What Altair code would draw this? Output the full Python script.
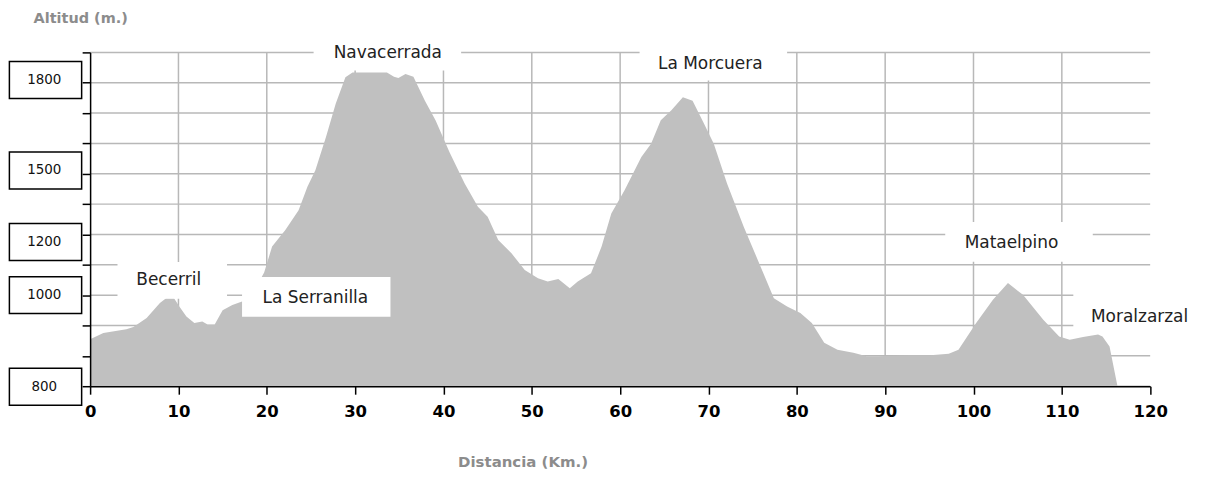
import altair as alt
import pandas as pd

# ---- profile data (km, altitude m) ----
km = [0, 1.5, 4.1, 4.9, 6.4, 7.9, 8.6, 9.5, 10.1, 10.9, 11.8, 12.7, 13.3, 14.1, 15.0, 16.1,
      17.2, 18.5, 19.7, 20.6, 22.1, 23.6, 24.6, 25.5, 26.7, 27.8, 28.9, 29.7, 33.6, 34.4,
      34.9, 35.7, 36.6, 37.9, 39.1, 40.7, 42.4, 43.9, 45.0, 46.2, 47.7, 49.2, 50.7, 51.8,
      53.0, 54.3, 55.2, 56.7, 57.9, 59.0, 60.5, 62.4, 63.5, 64.6, 65.8, 67.1, 68.2, 69.5,
      70.6, 72.1, 74.0, 75.9, 77.4, 78.9, 80.4, 81.7, 83.1, 84.6, 86.4, 87.9, 89.1, 92.8,
      95.1, 97.2, 98.3, 100.3, 102.2, 103.9, 105.6, 107.9, 109.7, 110.9, 112.4, 114.1,
      114.6, 115.4, 116.3]
elev = [955, 975, 988, 995, 1025, 1074, 1090, 1090, 1063, 1030, 1008, 1013, 1003, 1003, 1050, 1068,
        1079, 1110, 1175, 1260, 1315, 1380, 1457, 1512, 1621, 1731, 1818, 1834, 1834, 1820,
        1816, 1829, 1820, 1741, 1676, 1570, 1468, 1391, 1358, 1282, 1238, 1183, 1156, 1145,
        1153, 1123, 1145, 1172, 1260, 1369, 1446, 1555, 1599, 1676, 1709, 1752, 1741, 1665,
        1599, 1468, 1325, 1194, 1090, 1063, 1041, 1008, 943, 920, 910, 899, 899, 902,
        902, 907, 920, 1008, 1085, 1140, 1101, 1019, 964, 953, 962, 970,
        964, 931, 800]

x_ticks = list(range(0, 121, 10))
x_grid = list(range(10, 111, 10))
y_grid = list(range(800, 1901, 100))

# boxed altitude labels on the left
y_label_text = ["1800", "1500", "1200", "1000", "800"]
y_label_pos = [1809, 1511, 1275, 1100, 798]

# place names
place_names = ["Navacerrada", "La Morcuera", "Becerril", "La Serranilla", "Mataelpino", "Moralzarzal"]
place_km = [33.7, 70.2, 8.9, 25.5, 104.3, 118.8]
place_alt = [1897, 1863, 1150, 1091, 1272, 1029]
box_km0 = [25.3, 62.2, 3.1, 17.2, 96.8, 111.3]
box_km1 = [42.0, 78.9, 15.5, 34.0, 113.5, 126.1]
box_alt0 = [1840, 1807, 1088, 1029, 1210, 976]
box_alt1 = [1945, 1930, 1209, 1160, 1341, 1176]

W, H = 1063.8, 335
FONT = "DejaVu Sans"

profile = pd.DataFrame({"km": km, "alt": elev})
hgrid = pd.DataFrame({"v": y_grid})
vgrid = pd.DataFrame({"v": x_grid})
ylab = pd.DataFrame({"t": y_label_text, "pos": y_label_pos,
                     "lo": [p - 60.8 for p in y_label_pos], "hi": [p + 60.8 for p in y_label_pos]})
places = pd.DataFrame({"name": place_names, "km": place_km, "alt": place_alt,
                       "k0": box_km0, "k1": box_km1, "a0": box_alt0, "a1": box_alt1})

xscale = alt.Scale(domain=[0, 120], nice=False, zero=False)
yscale = alt.Scale(domain=[800, 1900], nice=False, zero=False)

xaxis = alt.Axis(values=x_ticks, grid=False, domainColor="black", domainWidth=1.5,
                 tickColor="black", tickWidth=1.5, tickSize=8,
                 labelFont=FONT, labelFontWeight="bold", labelFontSize=16.5, labelColor="black",
                 labelBaseline="middle", labelPadding=17, labelFlush=False,
                 title="Distancia (Km.)", titleFont=FONT, titleFontSize=15, titleFontWeight="bold",
                 titleColor="#8c8c8c", titleX=434, titleY=76, titleAlign="center",
                 titleBaseline="middle", titleAnchor="start", zindex=1)
yaxis = alt.Axis(values=y_grid, grid=False, labels=False, domainColor="black", domainWidth=1.5,
                 tickColor="black", tickWidth=1.5, tickSize=8,
                 title="Altitud (m.)", titleFont=FONT, titleFontSize=14.5, titleFontWeight="bold",
                 titleColor="#8c8c8c", titleAngle=0, titleX=-10, titleY=-33.7,
                 titleAlign="center", titleBaseline="middle", titleAnchor="start", zindex=1)


def xenc(f):
    return alt.X(f, type="quantitative", scale=xscale, axis=xaxis)


def yenc(f):
    return alt.Y(f, type="quantitative", scale=yscale, axis=yaxis)


grid_color = "#b8b8b8"

h_lines = alt.Chart(hgrid).mark_rule(color=grid_color, strokeWidth=1.5).encode(
    y=yenc("v"), x=alt.value(0), x2=alt.value(W))
v_lines = alt.Chart(vgrid).mark_rule(color=grid_color, strokeWidth=1.5).encode(
    x=xenc("v"), y=alt.value(0), y2=alt.value(H))

area = alt.Chart(profile).mark_area(color="#c0c0c0", opacity=1, interpolate="linear").encode(
    x=xenc("km"), y=yenc("alt"), y2=alt.datum(800))

boxes = alt.Chart(places).mark_rect(fill="white", stroke=None).encode(
    x=xenc("k0"), x2="k1", y=yenc("a0"), y2="a1")
names = alt.Chart(places).mark_text(font=FONT, fontSize=17, color="#222222",
                                    align="center", baseline="middle").encode(
    x=xenc("km"), y=yenc("alt"), text="name")

ybox = alt.Chart(ylab).mark_rect(fill="white", stroke="black", strokeWidth=1.5).encode(
    x=alt.value(-81), x2=alt.value(-8.5), y=yenc("lo"), y2="hi")
ytext = alt.Chart(ylab).mark_text(font=FONT, fontSize=13.5, color="#111111",
                                  align="center", baseline="middle").encode(
    x=alt.value(-46), y=yenc("pos"), text="t")

chart = alt.layer(h_lines, v_lines, area, boxes, names, ybox, ytext).properties(
    width=W, height=H,
    autosize=alt.AutoSizeParams(type="none"),
    padding={"left": 82.4, "top": 43.7, "right": 50, "bottom": 105},
    background="white",
).configure_view(stroke=None)

chart.save("out.html", embed_options={"renderer": "svg", "actions": False})
